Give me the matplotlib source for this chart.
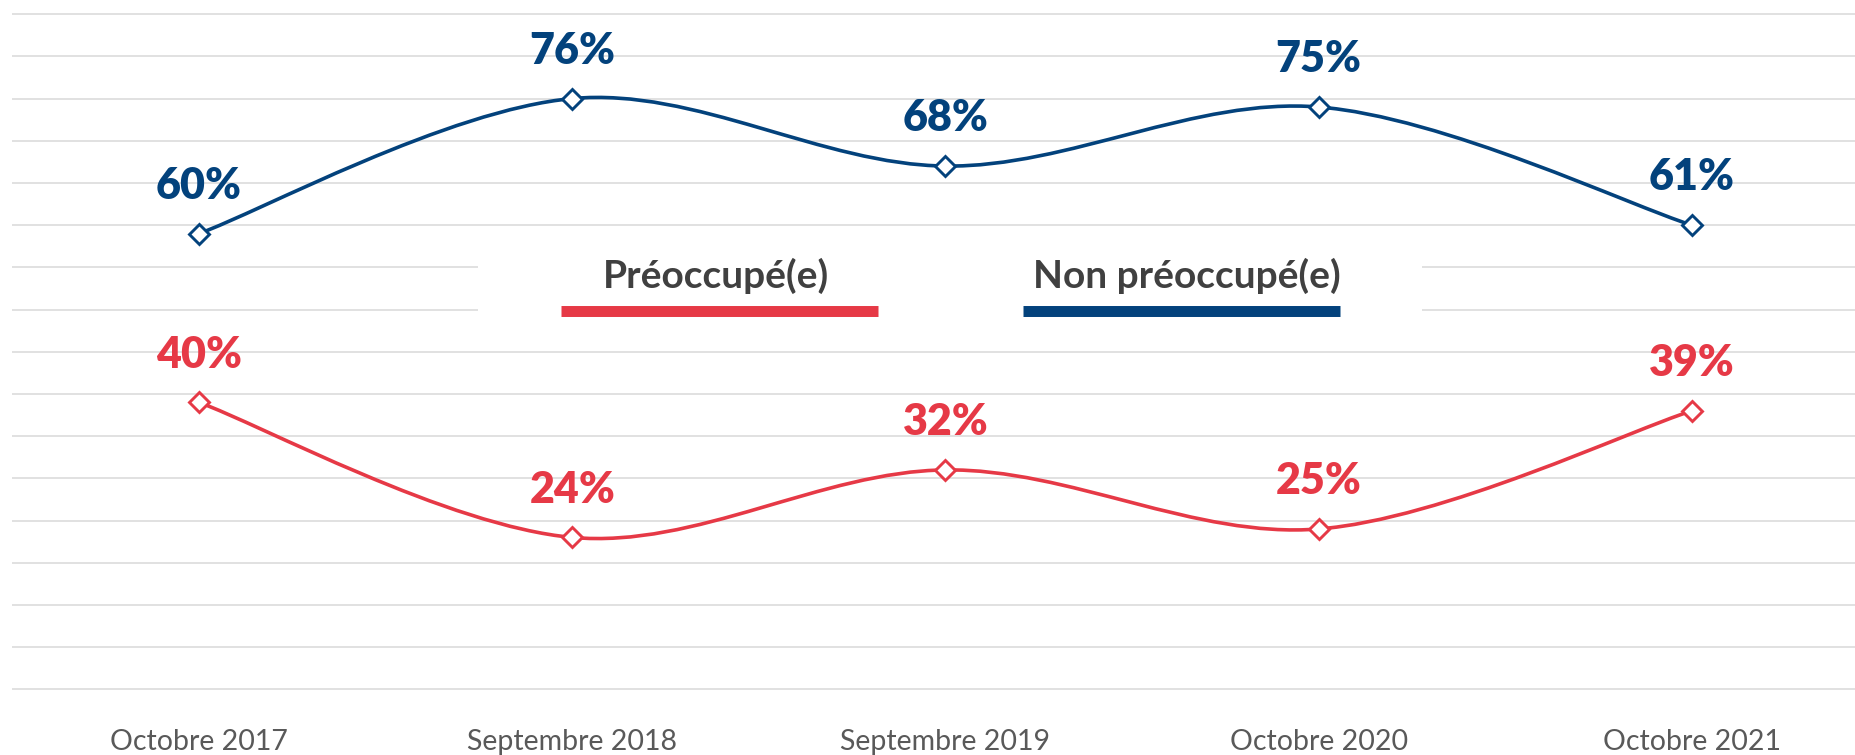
"""
Préoccupé(e) / Non préoccupé(e) - evolution 2017-2021
Smoothed line chart with markers, value labels and a centred legend.
"""

import matplotlib
matplotlib.use('Agg')
import matplotlib.pyplot as plt
from matplotlib.path import Path
from matplotlib.patches import PathPatch, Rectangle
from matplotlib.lines import Line2D
import numpy as np

# Data
CATEGORIES = ['Octobre 2017', 'Septembre 2018', 'Septembre 2019',
              'Octobre 2020', 'Octobre 2021']
PREOCCUPE = [40, 24, 32, 25, 39]
NON_PREOCCUPE = [60, 76, 68, 75, 61]
SERIES_NAMES = ['Préoccupé(e)', 'Non préoccupé(e)']

# Colors
COLORS = {
    'red': '#e63946',
    'blue': '#03427c',
    'grid': '#d9d9d9',
    'legend_text': '#404040',
    'tick_text': '#595959',
}

W, H = 1856, 755
FONT = ['Lato', 'DejaVu Sans']


def px(x):
    return x / W


def py(y):
    return (H - y) / H


def smooth_path(xs, ys):
    """Catmull-Rom style Bezier path through the points (Excel smoothing)."""
    pts = np.column_stack([xs, ys]).astype(float)
    n = len(pts)
    verts = [pts[0]]
    codes = [Path.MOVETO]
    for i in range(n - 1):
        p_prev = pts[max(i - 1, 0)]
        p0 = pts[i]
        p1 = pts[i + 1]
        p_next = pts[min(i + 2, n - 1)]
        c1 = p0 + (p1 - p_prev) / 6
        c2 = p1 - (p_next - p0) / 6
        verts += [c1, c2, p1]
        codes += [Path.CURVE4] * 3
    return Path(verts, codes)


def plot_series(ax, x, values, color):
    ax.add_patch(PathPatch(smooth_path(x, values), facecolor='none',
                           edgecolor=color, lw=2.6, zorder=3))
    ax.plot(x, values, linestyle='none', marker='D', ms=10.5,
            mfc='white', mec=color, mew=2.1, zorder=4)
    for xi, v in zip(x, values):
        ax.annotate(f'{v}%', (xi, v), textcoords='offset points',
                    xytext=(0, 25), ha='center', va='baseline',
                    fontsize=31, fontweight='heavy', color=color,
                    family=FONT, zorder=5)


def main():
    fig = plt.figure(figsize=(W / 100, H / 100), dpi=100)
    left, right = px(12.4), 1.0
    bottom, top = py(697.8), py(5.7)
    ax = fig.add_axes([left, bottom, right - left, top - bottom])

    x = np.arange(len(CATEGORIES))
    ax.set_xlim(-0.5, 4.44)
    ax.set_ylim(5, 87)

    # Gridlines
    ax.set_yticks(np.arange(6, 87, 5))
    ax.yaxis.grid(True, color=COLORS['grid'], lw=1.1)
    ax.set_axisbelow(True)
    ax.tick_params(axis='y', left=False, labelleft=False)
    for s in ax.spines.values():
        s.set_visible(False)

    ax.set_xticks(x, CATEGORIES)
    ax.tick_params(axis='x', length=0, pad=37.6, labelsize=20.5,
                   labelcolor=COLORS['tick_text'])
    for lbl in ax.get_xticklabels():
        lbl.set_va('baseline')
        lbl.set_family(FONT)

    plot_series(ax, x, NON_PREOCCUPE, COLORS['blue'])
    plot_series(ax, x, PREOCCUPE, COLORS['red'])

    # Legend (text above a thick colour bar, on a white box)
    fig.add_artist(Rectangle((px(478), py(345)), px(1422) - px(478),
                             py(235) - py(345), facecolor='white',
                             edgecolor='none', zorder=1))
    legend = [(SERIES_NAMES[0], COLORS['red'], 716, 561, 878),
              (SERIES_NAMES[1], COLORS['blue'], 1187, 1023, 1340)]
    for name, color, tx, x0, x1 in legend:
        fig.text(px(tx), py(288), name, ha='center', va='baseline',
                 fontsize=28, fontweight='bold', color=COLORS['legend_text'],
                 family=FONT, zorder=2)
        fig.add_artist(Line2D([px(x0), px(x1)], [py(311.5), py(311.5)],
                              color=color, lw=7.9, solid_capstyle='butt',
                              zorder=2))

    fig.savefig('out.png', dpi=100)


if __name__ == '__main__':
    main()
